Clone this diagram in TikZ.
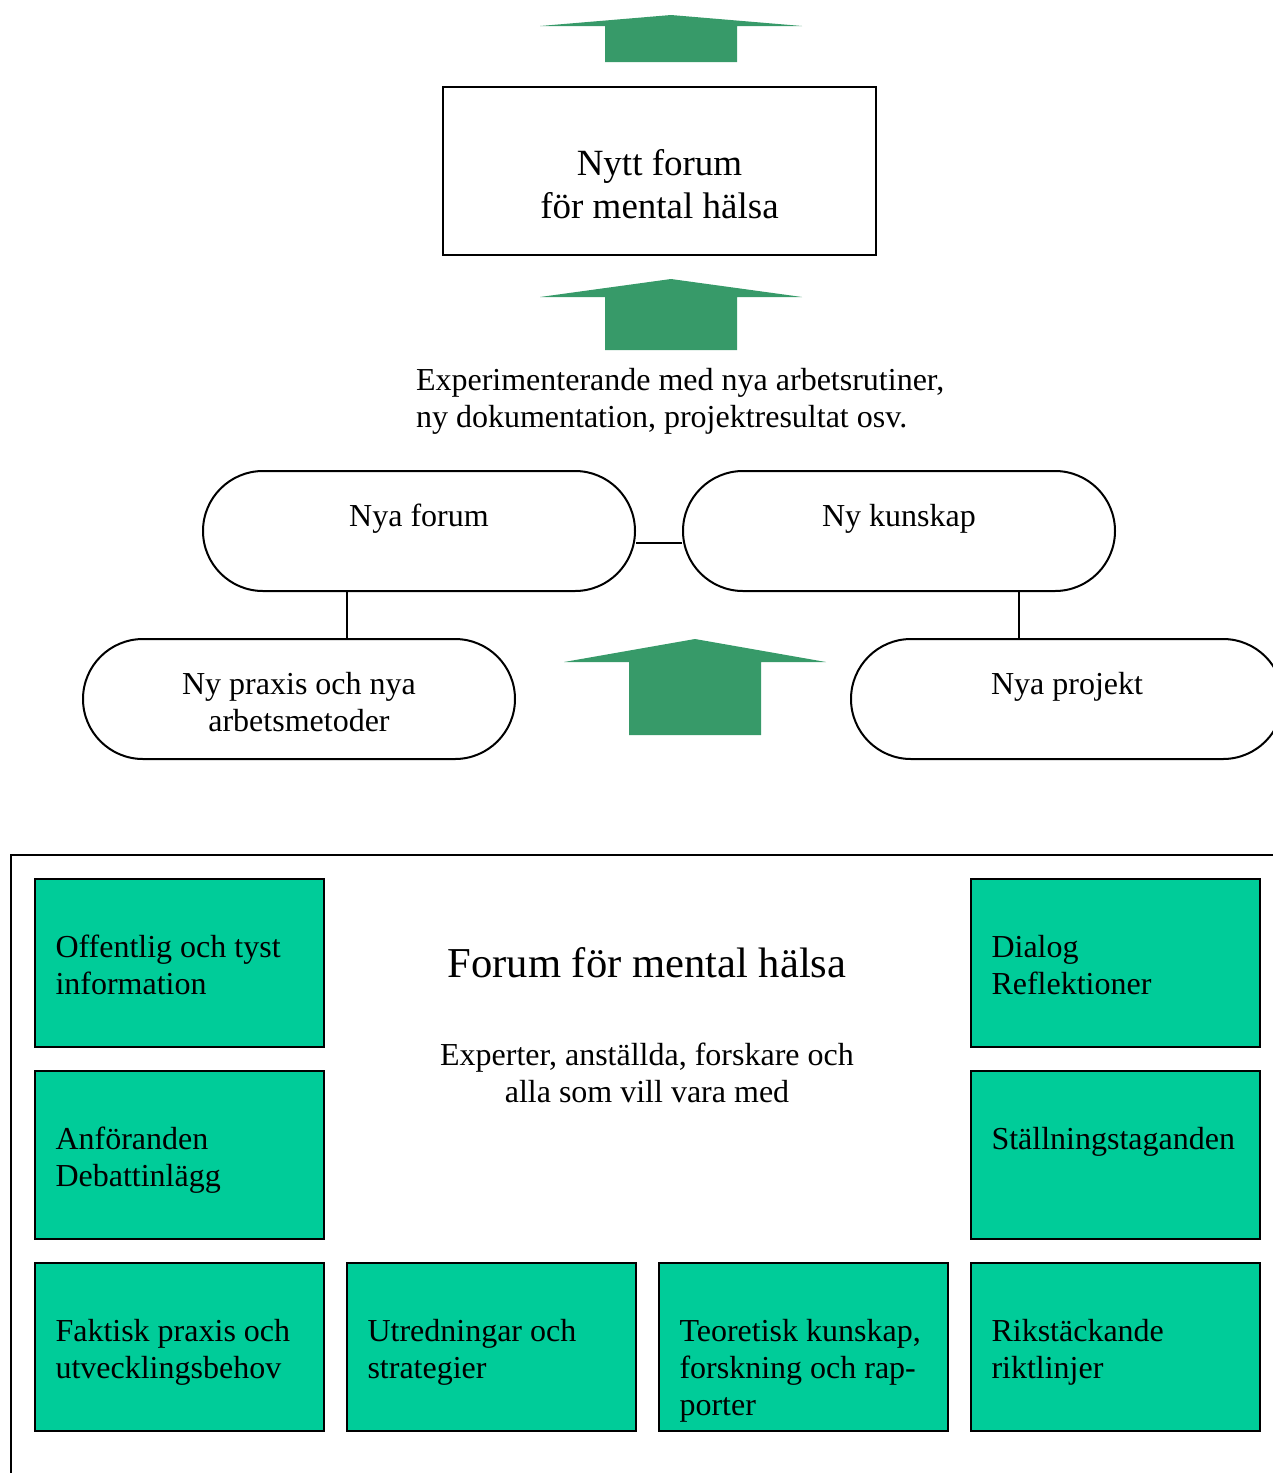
\documentclass[tikz,border=0pt]{standalone}
\usepackage{fontspec}
\setmainfont{Liberation Serif}
\usetikzlibrary{shapes.misc}

\definecolor{arrowgreen}{RGB}{55,154,105}
\definecolor{boxgreen}{RGB}{0,204,153}

% text of a green box, set from the top left
\newcommand{\boxlines}[1]{\parbox[c][84pt][t]{123.5pt}{\vspace*{28pt}\raggedright #1}}

\begin{document}
\begin{tikzpicture}[x=0.5pt,y=-0.5pt,line width=1pt,
    font=\fontsize{16}{18.5}\selectfont,
    pill/.style={draw,rounded rectangle,minimum width=216pt,minimum height=60pt,inner sep=0pt,align=center},
    greenbox/.style={draw,fill=boxgreen,minimum width=144.5pt,minimum height=84pt,inner sep=0pt}]
    \useasboundingbox (0,0) rectangle (1273,1473);
    \clip (0,0) rectangle (1273,1473);
    % arrows
    \foreach \cx/\tip/\base/\bot in {671/15/26/62, 671/279/297/350, 695/639/662/735}
    {
    \fill[arrowgreen] (\cx,\tip) -- (\cx+131,\base) -- (\cx+66,\base) -- (\cx+66,\bot)
        -- (\cx-66,\bot) -- (\cx-66,\base) -- (\cx-131,\base) -- cycle;
    }
    \node[draw,minimum width=216.5pt,minimum height=84pt,align=center,
        font=\fontsize{18.5}{21.5}\selectfont] (nytt) at (659.5,171)
        {\rule{0pt}{26pt}Nytt forum\\för mental hälsa};
    \node[anchor=west,align=left,inner sep=0pt] (exp) at (415,398)
        {\rule{0pt}{14pt}Experimenterande med nya arbetsrutiner,\\ny dokumentation, projektresultat osv.};
    \node[pill] (nyaforum) at (419,531) {\rule{0pt}{14pt}Nya forum\\ \mbox{}};
    \node[pill] (nykunskap) at (899,531) {\rule{0pt}{14pt}Ny kunskap\\ \mbox{}};
    \node[pill] (praxis) at (299,699) {\rule{0pt}{14pt}Ny praxis och nya\\arbetsmetoder};
    \node[pill] (projekt) at (1067,699) {\rule{0pt}{14pt}Nya projekt\\ \mbox{}};
    \draw ([yshift=-6pt]nyaforum.east) -- ([yshift=-6pt]nykunskap.west);
    \draw ([xshift=42pt]nyaforum.south west) -- ([xshift=42pt]nyaforum.south west |- praxis.north);
    \draw ([xshift=54pt]projekt.north west |- nykunskap.south) -- ([xshift=54pt]projekt.north west);
    % forum
    \draw (1300,855) -- (11,855) -- (11,1500);
    \node[font=\fontsize{21.3}{25}\selectfont] (title) at (647,963) {Forum för mental hälsa};
    \node[align=center] (experter) at (647,1073) {Experter, anställda, forskare och\\alla som vill vara med};
    \node[greenbox] (offentlig) at (179,963) {\boxlines{Offentlig och tyst\\information}};
    \node[greenbox] (anforanden) at (179,1155) {\boxlines{Anföranden\\Debattinlägg}};
    \node[greenbox] (faktisk) at (179,1347) {\boxlines{Faktisk praxis och\\utvecklingsbehov}};
    \node[greenbox] (utredningar) at (491,1347) {\boxlines{Utredningar och\\strategier}};
    \node[greenbox] (teoretisk) at (803,1347) {\boxlines{Teoretisk kunskap,\\forskning och rap-\\porter}};
    \node[greenbox] (dialog) at (1115,963) {\boxlines{Dialog\\Reflektioner}};
    \node[greenbox] (stallning) at (1115,1155) {\boxlines{Ställningstaganden}};
    \node[greenbox] (rikstackande) at (1115,1347) {\boxlines{Rikstäckande\\riktlinjer}};
\end{tikzpicture}
\end{document}
